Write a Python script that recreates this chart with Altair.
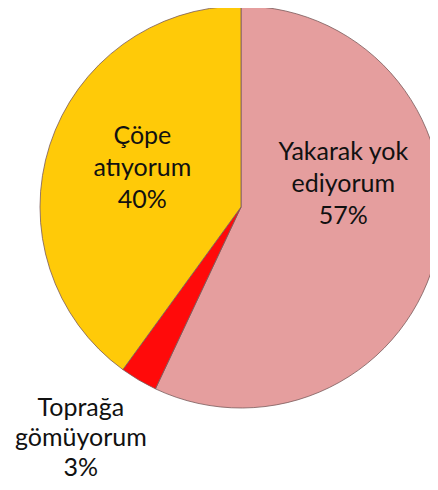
import altair as alt
import pandas as pd

categories = ["Yakarak yok ediyorum", "Toprağa gömüyorum", "Çöpe atıyorum"]
label_lines = ["Yakarak yok\nediyorum", "Toprağa\ngömüyorum", "Çöpe\natıyorum"]
percent = [57, 3, 40]
colors = ["#E59E9E", "#FF0A0A", "#FFCA08"]

df = pd.DataFrame({"cat": categories, "lines": label_lines, "pct": percent, "ord": [0, 1, 2]})
df["label"] = df["lines"] + "\n" + df["pct"].astype(str) + "%"

CX, CY, R = 233, 199, 201

base = alt.Chart(df).encode(
    theta=alt.Theta("pct:Q", stack=True),
    order=alt.Order("ord:Q"),
    x=alt.value(CX),
    y=alt.value(CY),
)

pie = base.mark_arc(outerRadius=R, stroke="#7a5a5a", strokeWidth=0.8).encode(
    color=alt.Color("cat:N", scale=alt.Scale(domain=categories, range=colors), legend=None)
)


def lab(i, radius, dx, dy, lh=32):
    return base.transform_calculate(
        t=f"datum.ord == {i} ? datum.label : ''"
    ).mark_text(
        radius=radius, dx=dx, dy=dy, font="Lato", fontSize=25,
        lineBreak="\n", lineHeight=lh, align="center", baseline="middle",
        color="#111111",
    ).encode(text="t:N")


chart = alt.layer(
    pie,
    lab(0, 110, -5, -79),
    lab(2, 110, 6, -37),
    lab(1, 240, -38, -6, 30),
).properties(
    width=422, height=474, padding=0, autosize="none"
).configure_view(stroke=None)

chart.save("out.html", embed_options={"renderer": "svg", "actions": False})
